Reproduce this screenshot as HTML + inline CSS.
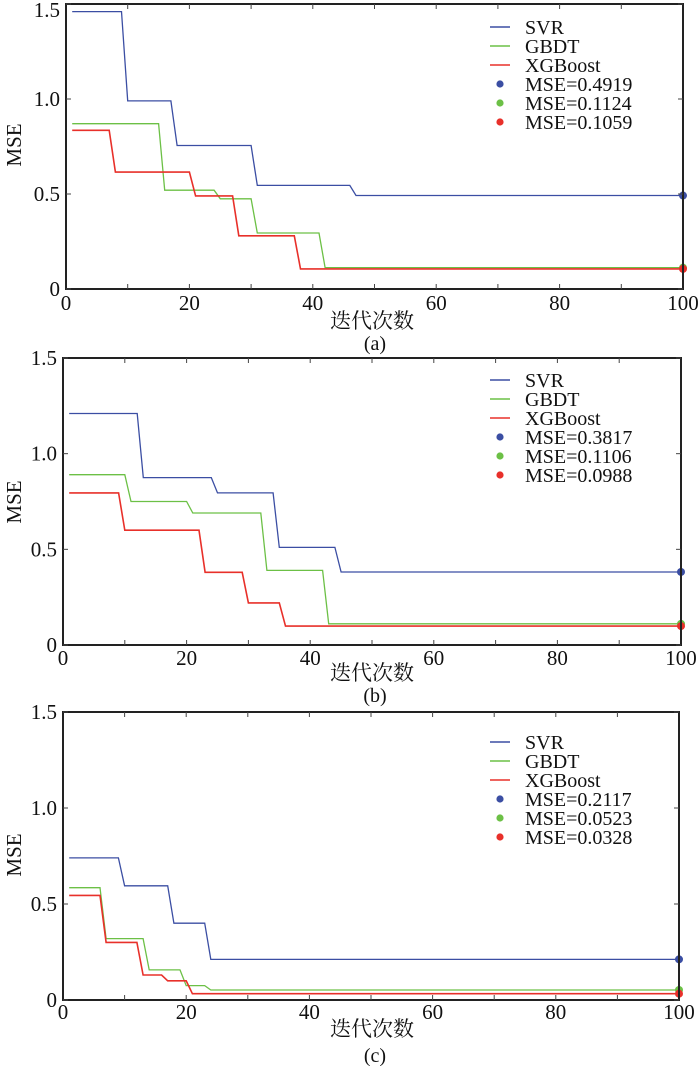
<!DOCTYPE html>
<html><head><meta charset="utf-8"><style>
html,body{margin:0;padding:0;background:#fff;}
svg{display:block;font-family:"Liberation Serif","Noto Serif CJK SC",serif;}
</style></head><body>
<svg id="chart" width="700" height="1066" viewBox="0 0 700 1066" xmlns="http://www.w3.org/2000/svg"></svg>
<script>
// ---- data: step change iterations and MSE values ----
const xTicks = [0, 20, 40, 60, 80, 100];
const yTicks = [0, 0.5, 1.0, 1.5];
const yTickLabels = ["0", "0.5", "1.0", "1.5"];
const seriesNames = ["SVR", "GBDT", "XGBoost"];
const panelLetters = ["(a)", "(b)", "(c)"];

const aSvrIter = [1, 10, 18, 31, 47];
const aSvrVal = [1.46, 0.99, 0.755, 0.545, 0.4919];
const aGbdtIter = [1, 16, 25, 31, 42];
const aGbdtVal = [0.87, 0.52, 0.475, 0.295, 0.1124];
const aXgbIter = [1, 8, 21, 28, 38];
const aXgbVal = [0.835, 0.615, 0.49, 0.28, 0.1059];
const aMse = ["0.4919", "0.1124", "0.1059"];

const bSvrIter = [1, 13, 25, 35, 45];
const bSvrVal = [1.21, 0.875, 0.795, 0.51, 0.3817];
const bGbdtIter = [1, 11, 21, 33, 43];
const bGbdtVal = [0.89, 0.75, 0.69, 0.39, 0.1106];
const bXgbIter = [1, 10, 23, 30, 36];
const bXgbVal = [0.795, 0.6, 0.38, 0.22, 0.0988];
const bMse = ["0.3817", "0.1106", "0.0988"];

const cSvrIter = [1, 10, 18, 24];
const cSvrVal = [0.74, 0.595, 0.40, 0.2117];
const cGbdtIter = [1, 7, 14, 20, 24];
const cGbdtVal = [0.585, 0.32, 0.157, 0.075, 0.0523];
const cXgbIter = [1, 7, 13, 17, 21];
const cXgbVal = [0.545, 0.30, 0.13, 0.10, 0.0328];
const cMse = ["0.2117", "0.0523", "0.0328"];

const colors = ["#3b4ea3", "#6cc046", "#e8302a"];
const layouts = [
  {l:66, r:683, t:4, b:289, xl:303, xt:320, xtx:372, pl:343, my:145, lg:27},
  {l:63, r:681, t:358, b:645, xl:658, xt:672, xtx:372, pl:695, my:502, lg:380},
  {l:63, r:679, t:712, b:1000, xl:1012, xt:1028, xtx:372, pl:1055, my:855, lg:742}
];
const panels = [
  {iters:[aSvrIter,aGbdtIter,aXgbIter], vals:[aSvrVal,aGbdtVal,aXgbVal], mse:aMse},
  {iters:[bSvrIter,bGbdtIter,bXgbIter], vals:[bSvrVal,bGbdtVal,bXgbVal], mse:bMse},
  {iters:[cSvrIter,cGbdtIter,cXgbIter], vals:[cSvrVal,cGbdtVal,cXgbVal], mse:cMse}
];

const NS = "http://www.w3.org/2000/svg";
const svg = document.getElementById("chart");
function mk(tag, attrs, parent, text){
  const e = document.createElementNS(NS, tag);
  for (const k in attrs) e.setAttribute(k, attrs[k]);
  if (text !== undefined) e.textContent = text;
  (parent || svg).appendChild(e);
  return e;
}

panels.forEach((p, pi) => {
  const L = layouts[pi];
  const g = mk("g", {});
  
  
  const xs = v => L.l + (L.r - L.l) * v / 100;
  const ys = v => L.b - (L.b - L.t) * v / 1.5;

  // series
  p.iters.forEach((it, si) => {
    const v = p.vals[si];
    let pts = [[it[0], v[0]]];
    for (let k = 1; k < it.length; k++) {
      pts.push([it[k] - 1, v[k-1]]);
      pts.push([it[k], v[k]]);
    }
    pts.push([100, v[v.length-1]]);
    const line = mk("polyline", {points: pts.map(q => xs(q[0]).toFixed(1) + "," + ys(q[1]).toFixed(1)).join(" "),
      fill:"none", stroke:colors[si], "stroke-width": si === 2 ? 1.6 : 1.3}, g);
    
    
  });
  // final dots
  p.iters.forEach((it, si) => {
    const v = p.vals[si];
    const d = mk("circle", {cx: xs(100), cy: ys(v[v.length-1]), r: 4, fill: colors[si]}, g);
    
    
  });

  // axes frame
  const fr = mk("rect", {x:L.l, y:L.t, width:L.r-L.l, height:L.b-L.t, fill:"none", stroke:"#222", "stroke-width":2}, g);
  
  

  // x ticks every 10
  for (let t = 10; t < 100; t += 10) {
    mk("line", {x1:xs(t), x2:xs(t), y1:L.b, y2:L.b-5, stroke:"#444", "stroke-width":1}, g);
    mk("line", {x1:xs(t), x2:xs(t), y1:L.t, y2:L.t+5, stroke:"#444", "stroke-width":1}, g);
  }
  xTicks.forEach(t => {
    const tx = mk("text", {x: xs(t), y: L.xl + 7, "font-size":21, "text-anchor":"middle", fill:"#111"}, g, String(t));
    
    
  });
  yTicks.forEach((t, ti) => {
    mk("line", {x1:L.l, x2:L.l+5, y1:ys(t), y2:ys(t), stroke:"#444", "stroke-width":1}, g);
    mk("line", {x1:L.r, x2:L.r-5, y1:ys(t), y2:ys(t), stroke:"#444", "stroke-width":1}, g);
    const ty = ti === 3 ? Math.max(ys(t) + 7, 17) : ys(t) + 7;
    const tx = mk("text", {x: L.l - 6, y: ty, "font-size":21, "text-anchor":"end", fill:"#111"}, g, yTickLabels[ti]);
    
    
  });

  const xt = mk("text", {x: L.xtx, y: L.xt + 8, "font-size":21, "text-anchor":"middle", fill:"#111"}, g, "迭代次数");
  
  
  const pl = mk("text", {x: 375, y: L.pl + 7, "font-size":20, "text-anchor":"middle", fill:"#111"}, g, panelLetters[pi]);
  
  
  const yt = mk("text", {x: 0, y: 0, "font-size":21, "text-anchor":"middle", fill:"#111",
    transform: "translate(21," + L.my + ") rotate(-90)"}, g, "MSE");
  
  

  // legend
  const lg = mk("g", {}, g);
  
  
  const labels = seriesNames.concat(p.mse.map(m => "MSE=" + m));
  labels.forEach((lab, k) => {
    const y = L.lg + k * 19;
    const e = mk("g", {}, lg);
    
    
    if (k < 3) mk("line", {x1:490, x2:510, y1:y, y2:y, stroke:colors[k], "stroke-width":1.4}, e);
    else mk("circle", {cx:500, cy:y, r:3.6, fill:colors[k-3]}, e);
    mk("text", {x:525, y:y + 7, "font-size":20, fill:"#111"}, e, lab);
  });
});
</script>
</body></html>
